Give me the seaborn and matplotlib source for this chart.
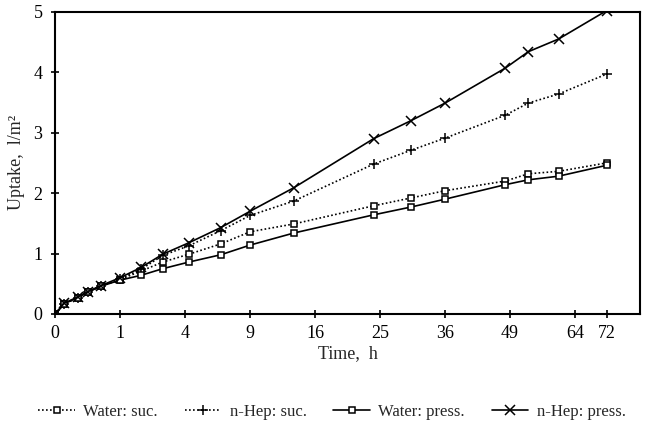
import numpy as np
import pandas as pd
import matplotlib
matplotlib.use("Agg")
import matplotlib.pyplot as plt
import seaborn as sns

# Datos (tiempo en horas, absorción en l/m²)
time_h = [0, 0.02, 0.12, 0.25, 0.5, 1, 1.75, 2.75, 4.25, 6.5, 9, 13.5, 24, 30, 36, 48, 53, 60, 72]
water_suc = [0, 0.17, 0.27, 0.36, 0.46, 0.57, 0.71, 0.86, 0.99, 1.16, 1.36, 1.49, 1.79, 1.92, 2.04, 2.20, 2.32, 2.36, 2.50]
hep_suc = [0, 0.17, 0.27, 0.36, 0.46, 0.58, 0.74, 0.97, 1.13, 1.38, 1.63, 1.87, 2.48, 2.71, 2.91, 3.29, 3.49, 3.64, 3.97]
water_press = [0, 0.17, 0.27, 0.36, 0.46, 0.56, 0.64, 0.75, 0.86, 0.98, 1.14, 1.34, 1.64, 1.77, 1.90, 2.14, 2.22, 2.28, 2.46]
hep_press = [0, 0.18, 0.28, 0.37, 0.47, 0.60, 0.77, 0.99, 1.18, 1.43, 1.70, 2.09, 2.90, 3.20, 3.49, 4.07, 4.34, 4.55, 5.02]

tick_hours = [0, 1, 4, 9, 16, 25, 36, 49, 64, 72]
series_names = ["Water: suc.", "n-Hep: suc.", "Water: press.", "n-Hep: press."]

sns.set_style("ticks")
plt.rcParams["font.family"] = ["Liberation Serif", "DejaVu Serif"]

fig, ax = plt.subplots(figsize=(6.64, 4.22), dpi=100)
fig.subplots_adjust(left=0.083, right=0.964, top=0.972, bottom=0.256)

dot = (0, (1, 1.4))
estilos = [
    (water_suc, dot, "s", 5),
    (hep_suc, dot, "+", 7),
    (water_press, "-", "s", 5),
    (hep_press, "-", "x", 7.5),
]

sqrt_t = np.sqrt(time_h)
handles = []
for name, (vals, ls, mk, ms) in zip(series_names, estilos):
    df = pd.DataFrame({"x": sqrt_t, "y": vals})
    sns.lineplot(data=df, x="x", y="y", ax=ax, color="black", linestyle=ls,
                 marker=mk, markersize=ms, markerfacecolor="white",
                 markeredgecolor="black", markeredgewidth=1.1, linewidth=1.2)
    handles.append(ax.lines[-1])

ax.set_xlim(0, 9.0)
ax.set_ylim(0, 5)
ax.set_xticks(np.sqrt(tick_hours))
ax.set_xticklabels([str(h) for h in tick_hours], fontsize=13)
ax.set_yticks([0, 1, 2, 3, 4, 5])
ax.set_yticklabels(["0", "1", "2", "3", "4", "5"], fontsize=13)
ax.tick_params(direction="inout", length=6, width=1.2, colors="black")
ax.tick_params(axis="y", pad=6)
ax.tick_params(axis="x", pad=5)
for sp in ax.spines.values():
    sp.set_visible(True)
    sp.set_linewidth(1.5)
    sp.set_color("black")

ax.set_xlabel("Time,  h", fontsize=13, labelpad=2)
ax.set_ylabel("Uptake,  l/m²", fontsize=13, labelpad=6)

fig.legend(handles, series_names, loc="lower center", ncol=4, frameon=False,
           fontsize=12, handlelength=2.2, handletextpad=0.5, columnspacing=1.6,
           bbox_to_anchor=(0.5, -0.03))

fig.savefig("out.png", dpi=100)
